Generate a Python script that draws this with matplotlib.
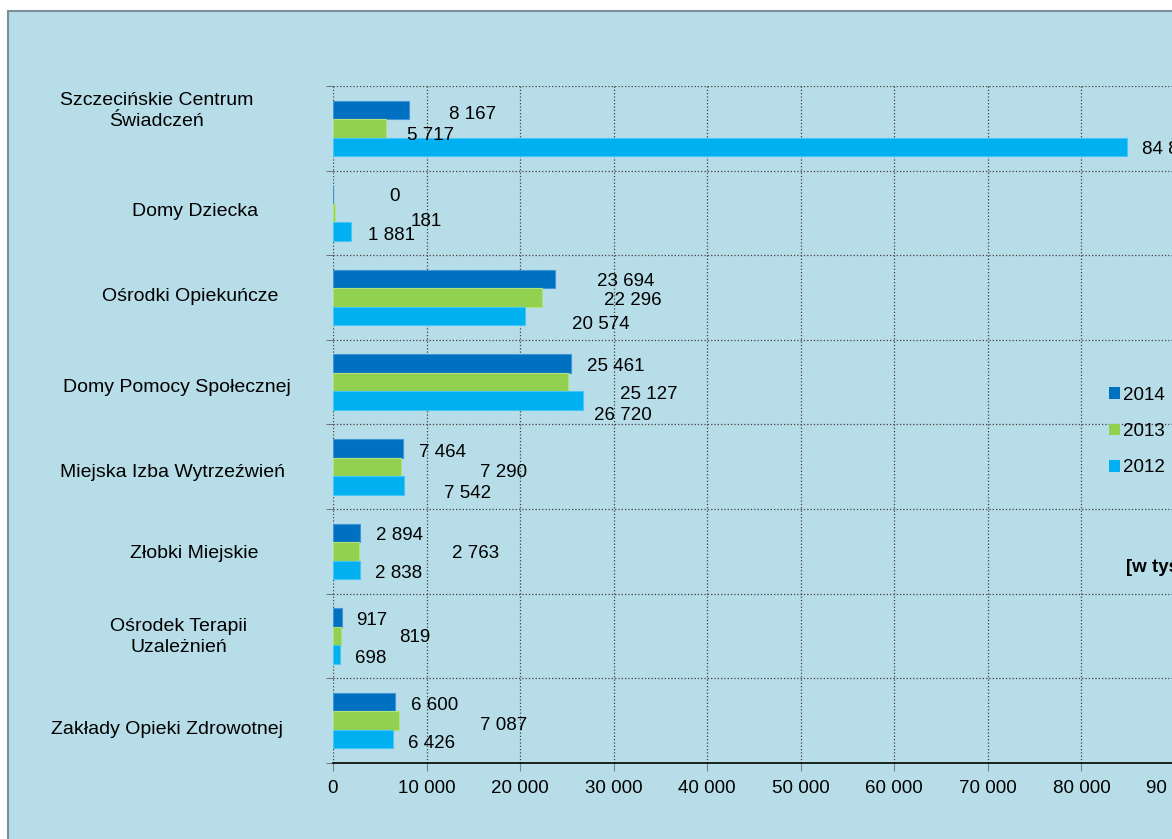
import numpy as np
import matplotlib.pyplot as plt
from matplotlib.patches import Rectangle, Patch

plt.rcParams['font.family'] = ['Liberation Sans', 'DejaVu Sans']

# data [w tys. zł]
categories = ['Szczecińskie Centrum\nŚwiadczeń', 'Domy Dziecka', 'Ośrodki Opiekuńcze',
              'Domy Pomocy Społecznej', 'Miejska Izba Wytrzeźwień', 'Złobki Miejskie',
              'Ośrodek Terapii\nUzależnień', 'Zakłady Opieki Zdrowotnej']
years = ['2014', '2013', '2012']
v2014 = [8167, 0, 23694, 25461, 7464, 2894, 917, 6600]
v2013 = [5717, 181, 22296, 25127, 7290, 2763, 819, 7087]
v2012 = [84880, 1881, 20574, 26720, 7542, 2838, 698, 6426]
x_ticks = [0, 10000, 20000, 30000, 40000, 50000, 60000, 70000, 80000, 90000]

colors = ['#0070C0', '#92D050', '#00B0F0']
edges = ['#3F95D6', '#B2E27E', '#44C6F6']

# label placement as Excel left it (pixel offsets from bar end, dy downward)
label_dx = [[40, 56, 42, 16, 16, 16, 15, 16],
            [21, 76, 62, 52, 79, 93, 58, 81],
            [15, 17, 47, 11, 40, 15, 15, 15]]
label_dy = [[5, 2, 2, 3, 4, 3, 3, 3],
            [7, 9, 3, 12, 6, 2, 1, 5],
            [3, 4, 8, 15, 8, 4, 4, 4]]
cat_label_x = [157, 195, 190, 177, 172, 194, 179, 167]
cat_label_dy = [-17, -1, -1, 5, 6, 2, 1, 9]

W, H = 1172, 839
fig = plt.figure(figsize=(W / 100, H / 100), dpi=100)
fig.patches.append(Rectangle((8 / W, -0.05), 1.2, (H - 11) / H + 0.05, transform=fig.transFigure,
                             fc='#B7DDE8', ec='#7C8E97', lw=1.5, zorder=-10))

ax = fig.add_axes([333 / W, (H - 763) / H, 842 / W, 677 / H])
ax.patch.set_visible(False)

fs = 13.5
y = np.arange(len(categories))
h = 0.219
series = [v2014, v2013, v2012]
for j, vals in enumerate(series):
    pos = y + (j - 1) * h
    ax.barh(pos, vals, height=h, color=colors[j], edgecolor=edges[j], linewidth=0.8,
            label=years[j], zorder=3)
    for i, v in enumerate(vals):
        txt = f'{v:,}'.replace(',', ' ')
        ax.annotate(txt, (v, pos[i]), xytext=(label_dx[j][i], -label_dy[j][i]),
                    textcoords='offset pixels', va='center', ha='left', fontsize=fs,
                    color='black', zorder=4, annotation_clip=False)

ax.set_xlim(0, 90000)
ax.set_ylim(len(categories) - 0.5, -0.5)
ax.set_xticks(x_ticks)
ax.set_xticklabels([f'{t:,}'.replace(',', ' ') for t in x_ticks], fontsize=fs)
ax.tick_params(axis='x', length=6, color='#808080', pad=6)
ax.set_yticks(np.arange(len(categories) + 1) - 0.5, minor=True)
ax.set_yticks([])
ax.tick_params(axis='y', which='minor', length=5, color='#606060')
ax.grid(axis='x', which='major', color='#404040', linestyle=':', linewidth=0.9, zorder=1)
ax.grid(axis='y', which='minor', color='#404040', linestyle=':', linewidth=0.9, zorder=1)
for s in ['top', 'right', 'left']:
    ax.spines[s].set_visible(False)
ax.spines['bottom'].set_color('black')
ax.spines['bottom'].set_linewidth(1.2)

for i, c in enumerate(categories):
    ax.annotate(c, ((cat_label_x[i] - 333) / 842, i), xycoords=ax.get_yaxis_transform(),
                xytext=(0, -cat_label_dy[i]), textcoords='offset pixels',
                ha='center', va='center', fontsize=14, linespacing=1.3,
                annotation_clip=False)

handles = [Patch(fc=colors[j], ec='none') for j in range(3)]
fig.legend(handles, years, loc='upper left', bbox_to_anchor=(1109 / W, 1 - 387 / H),
           frameon=False, fontsize=fs, handlelength=0.6, handleheight=0.6,
           handletextpad=0.15, labelspacing=1.02, borderpad=0, borderaxespad=0)

fig.text(1126 / W, 1 - 567 / H, '[w tys. zł]', fontsize=fs, fontweight='bold',
         ha='left', va='center')

fig.savefig('out.png', dpi=100)
